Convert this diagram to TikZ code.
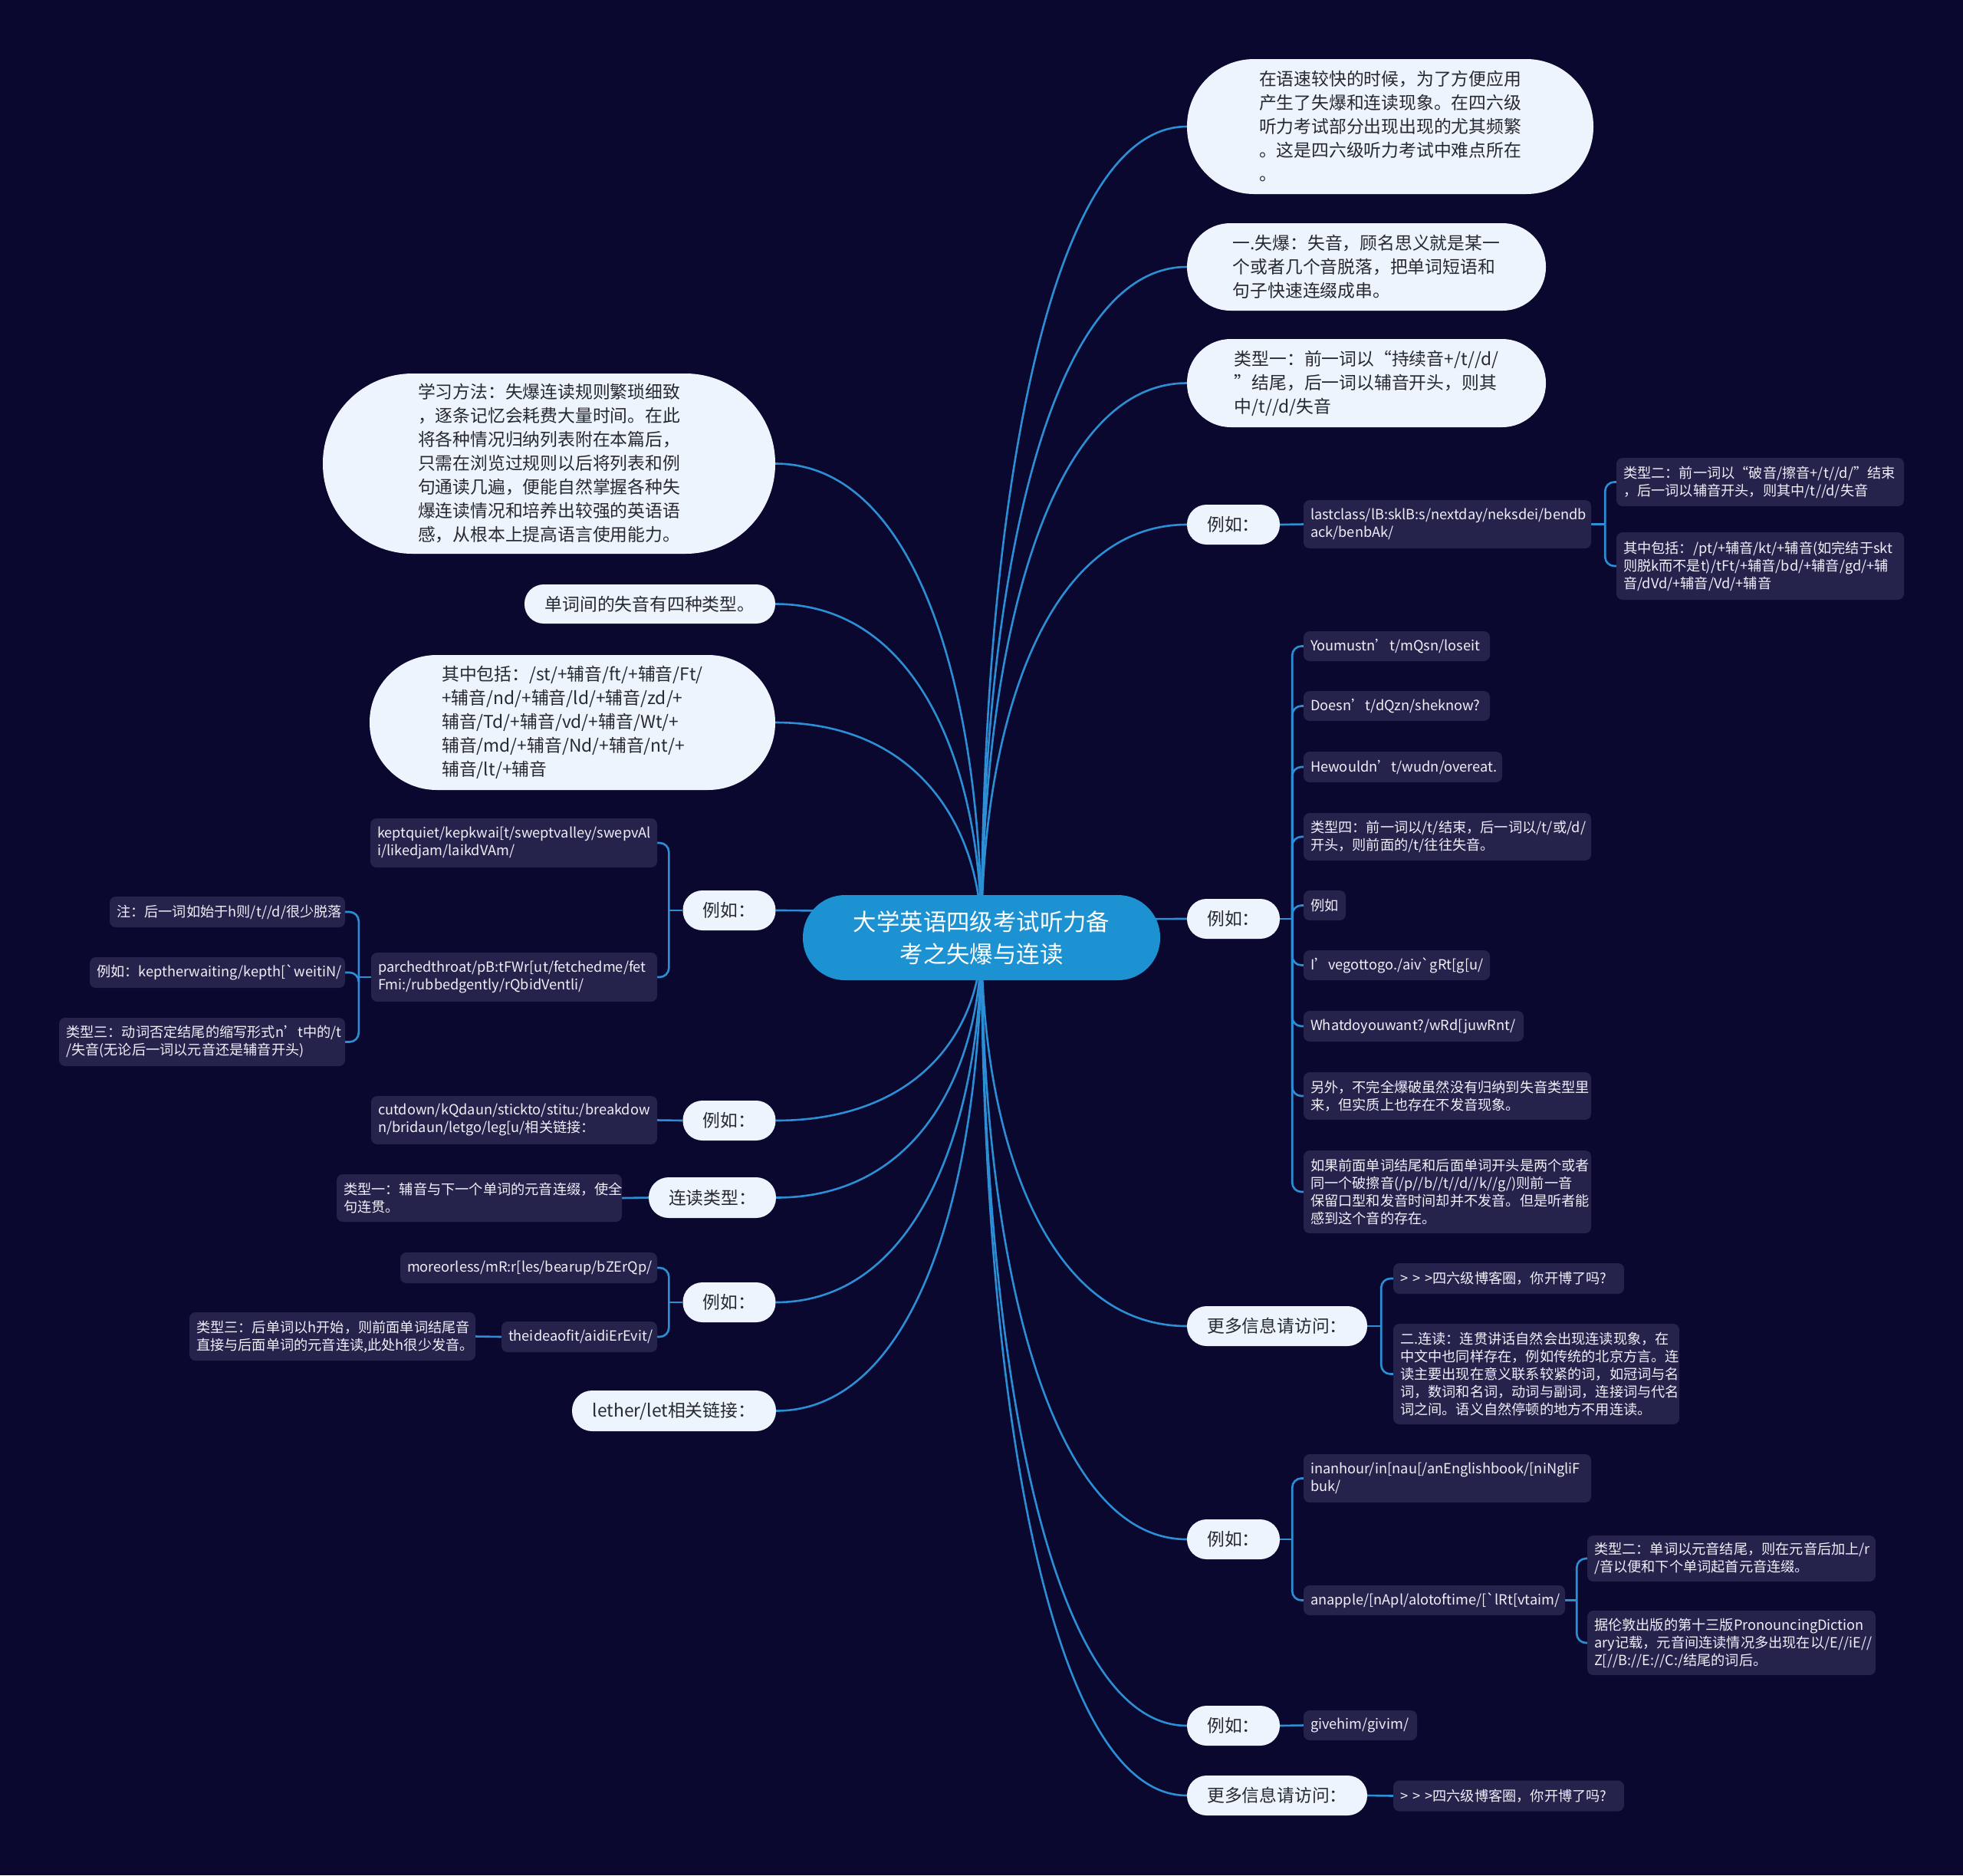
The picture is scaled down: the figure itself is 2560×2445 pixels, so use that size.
\documentclass[tikz,border=0pt]{standalone}
\usepackage{fontspec}
\setmainfont{Noto Sans CJK SC}
\usetikzlibrary{calc}
\definecolor{bgc}{RGB}{10,8,46}
\definecolor{dkfill}{RGB}{37,34,76}
\definecolor{ltfill}{RGB}{238,244,253}
\definecolor{lttext}{RGB}{40,40,48}
\definecolor{linec}{RGB}{44,143,213}
\definecolor{rootc}{RGB}{28,146,210}
\definecolor{dktext}{RGB}{240,240,248}
\pgfdeclarelayer{lines}
\pgfsetlayers{lines,main}
\newcommand\mmbr[3]{\draw[link] (#1) -- ++(#3,0) coordinate (mmj); \draw[link,rounded corners=12pt] (mmj) |- (#2);}
\begin{document}
\begin{tikzpicture}[x=1pt,y=-1pt,
  rootn/.style={fill=rootc, text=white, font=\fontsize{30.4}{42}\selectfont, align=center, minimum width=466pt, minimum height=111pt, rounded corners=55pt, inner sep=0pt},
  lt/.style={fill=ltfill, text=lttext, font=\fontsize{22.8}{31}\selectfont, align=left, inner sep=0pt},
  dk/.style={fill=dkfill, text=dktext, font=\fontsize{18.2}{23}\selectfont, align=left, inner xsep=9pt, inner ysep=0pt, rounded corners=8pt},
  link/.style={draw=linec, line width=2.6pt},
  rootcurve/.style={to path={.. controls ($(\tikztostart)!0.5!(\tikztostart |- \tikztotarget)$) and ($(\tikztostart |- \tikztotarget)!0.3!(\tikztotarget)$) .. (\tikztotarget)}}
]
\useasboundingbox (0,0) rectangle (2560,2445);
% root
\node[rootn] (root) at (1280,1222.5) {大学英语四级考试听力备\\考之失爆与连读};
% right level 1
\node[lt, minimum width=530pt, minimum height=176pt, rounded corners=87.5pt] (R1) at (1813,165) {在语速较快的时候，为了方便应用\\产生了失爆和连读现象。在四六级\\听力考试部分出现出现的尤其频繁\\。这是四六级听力考试中难点所在\\。};
\node[lt, minimum width=468pt, minimum height=114pt, rounded corners=56.5pt] (R2) at (1782,348) {一.失爆：失音，顾名思义就是某一\\个或者几个音脱落，把单词短语和\\句子快速连缀成串。};
\node[lt, minimum width=468pt, minimum height=115pt, rounded corners=57pt] (R3) at (1782,499.5) {类型一：前一词以“持续音+/t//d/\\”结尾，后一词以辅音开头，则其\\中/t//d/失音};
\node[lt, minimum width=121pt, minimum height=52pt, rounded corners=25.5pt] (R4) at (1608.5,684) {例如：};
\node[lt, minimum width=121pt, minimum height=52pt, rounded corners=25.5pt] (R5) at (1608.5,1198) {例如：};
\node[lt, minimum width=235pt, minimum height=52pt, rounded corners=25.5pt] (R6) at (1665.5,1729) {更多信息请访问：};
\node[lt, minimum width=121pt, minimum height=52pt, rounded corners=25.5pt] (R7) at (1608.5,2007) {例如：};
\node[lt, minimum width=121pt, minimum height=52pt, rounded corners=25.5pt] (R8) at (1608.5,2250) {例如：};
\node[lt, minimum width=235pt, minimum height=52pt, rounded corners=25.5pt] (R9) at (1665.5,2341) {更多信息请访问：};
% left level 1
\node[lt, minimum width=590pt, minimum height=235pt, rounded corners=117pt] (L1) at (716,604.5) {学习方法：失爆连读规则繁琐细致\\，逐条记忆会耗费大量时间。在此\\将各种情况归纳列表附在本篇后，\\只需在浏览过规则以后将列表和例\\句通读几遍，便能自然掌握各种失\\爆连读情况和培养出较强的英语语\\感，从根本上提高语言使用能力。};
\node[lt, minimum width=327pt, minimum height=51pt, rounded corners=25pt] (L2) at (847.5,787.5) {单词间的失音有四种类型。};
\node[lt, minimum width=529pt, minimum height=176pt, rounded corners=87.5pt] (L3) at (746.5,942) {其中包括：/st/+辅音/ft/+辅音/Ft/\\+辅音/nd/+辅音/ld/+辅音/zd/+\\辅音/Td/+辅音/vd/+辅音/Wt/+\\辅音/md/+辅音/Nd/+辅音/nt/+\\辅音/lt/+辅音};
\node[lt, minimum width=121pt, minimum height=52pt, rounded corners=25.5pt] (L4) at (951,1187) {例如：};
\node[lt, minimum width=121pt, minimum height=52pt, rounded corners=25.5pt] (L5) at (951,1461) {例如：};
\node[lt, minimum width=166pt, minimum height=53pt, rounded corners=26pt] (L6) at (929,1561.5) {连读类型：};
\node[lt, minimum width=121pt, minimum height=52pt, rounded corners=25.5pt] (L7) at (951,1698) {例如：};
\node[lt, minimum width=266pt, minimum height=53pt, rounded corners=26pt] (L8) at (879,1839.5) {lether/let相关链接：};
% right dark nodes
\node[dk, text width=357pt, minimum height=63pt] (Dlast) at (1887.5,683.5) {lastclass/lB:sklB:s/nextday/neksdei/bendb\\ack/benbAk/};
\node[dk, text width=357pt, minimum height=63pt] (Dty2) at (2295.5,628.5) {类型二：前一词以“破音/擦音+/t//d/”结束\\，后一词以辅音开头，则其中/t//d/失音};
\node[dk, text width=357pt, minimum height=88pt] (Dqz) at (2295.5,738) {其中包括：/pt/+辅音/kt/+辅音(如完结于skt\\则脱k而不是t)/tFt/+辅音/bd/+辅音/gd/+辅\\音/dVd/+辅音/Vd/+辅音};
\node[dk, text width=225pt, minimum height=39pt] (Dyou) at (1821.5,842.5) {Youmustn’t/mQsn/loseit};
\node[dk, text width=225pt, minimum height=39pt] (Ddoes) at (1821.5,920.5) {Doesn’t/dQzn/sheknow?};
\node[dk, text width=241pt, minimum height=40pt] (Dhew) at (1829.5,1000) {Hewouldn’t/wudn/overeat.};
\node[dk, text width=357pt, minimum height=62pt] (Dty4) at (1887.5,1091) {类型四：前一词以/t/结束，后一词以/t/或/d/\\开头，则前面的/t/往往失音。};
\node[dk, text width=37pt, minimum height=39pt] (Dlr) at (1727.5,1180.5) {例如};
\node[dk, text width=225pt, minimum height=39pt] (Dive) at (1821.5,1258.5) {I’vegottogo./aiv\textasciigrave gRt[g[u/};
\node[dk, text width=269pt, minimum height=40pt] (Dwhat) at (1843.5,1338) {Whatdoyouwant?/wRd[juwRnt/};
\node[dk, text width=357pt, minimum height=62pt] (Dlw) at (1887.5,1429) {另外，不完全爆破虽然没有归纳到失音类型里\\来，但实质上也存在不发音现象。};
\node[dk, text width=357pt, minimum height=108pt] (Drg) at (1887.5,1554) {如果前面单词结尾和后面单词开头是两个或者\\同一个破擦音(/p//b//t//d//k//g/)则前一音\\保留口型和发音时间却并不发音。但是听者能\\感到这个音的存在。};
\node[dk, text width=283pt, minimum height=40pt] (Dblog1) at (1967.5,1667) {>\ >\ >四六级博客圈，你开博了吗?};
\node[dk, text width=355pt, minimum height=131pt] (Dlian) at (2003.5,1791.5) {二.连读：连贯讲话自然会出现连读现象，在\\中文中也同样存在，例如传统的北京方言。连\\读主要出现在意义联系较紧的词，如冠词与名\\词，数词和名词，动词与副词，连接词与代名\\词之间。语义自然停顿的地方不用连读。};
\node[dk, text width=357pt, minimum height=63pt] (Dinan) at (1887.5,1927.5) {inanhour/in[nau[/anEnglishbook/[niNgliF\\buk/};
\node[dk, text width=323pt, minimum height=39pt] (Danap) at (1870.5,2086.5) {anapple/[nApl/alotoftime/[\textasciigrave lRt[vtaim/};
\node[dk, text width=358pt, minimum height=60pt] (Dty2b) at (2258,2032) {类型二：单词以元音结尾，则在元音后加上/r\\/音以便和下个单词起首元音连缀。};
\node[dk, text width=358pt, minimum height=84pt] (Dlun) at (2258,2142) {据伦敦出版的第十三版PronouncingDiction\\ary记载，元音间连读情况多出现在以/E//iE//\\Z[//B://E://C:/结尾的词后。};
\node[dk, text width=130pt, minimum height=39pt] (Dgive) at (1774,2249.5) {givehim/givim/};
\node[dk, text width=283pt, minimum height=40pt] (Dblog2) at (1967.5,2341.5) {>\ >\ >四六级博客圈，你开博了吗?};
% left dark nodes
\node[dk, text width=356pt, minimum height=64pt] (DLkept) at (670,1099) {keptquiet/kepkwai[t/sweptvalley/swepvAl\\i/likedjam/laikdVAm/};
\node[dk, text width=355pt, minimum height=64pt] (DLparch) at (670.5,1274) {parchedthroat/pB:tFWr[ut/fetchedme/fet\\Fmi:/rubbedgently/rQbidVentli/};
\node[dk, text width=289pt, minimum height=40pt] (DLzhu) at (296.5,1189) {注：后一词如始于h则/t//d/很少脱落};
\node[dk, text width=315pt, minimum height=40pt] (DLlr) at (283.5,1268) {例如：keptherwaiting/kepth[\textasciigrave weitiN/};
\node[dk, text width=355pt, minimum height=63pt] (DLty3) at (263.5,1358.5) {类型三：动词否定结尾的缩写形式n’t中的/t\\/失音(无论后一词以元音还是辅音开头)};
\node[dk, text width=355pt, minimum height=63pt] (DLcut) at (670.5,1460.5) {cutdown/kQdaun/stickto/stitu:/breakdow\\n/bridaun/letgo/leg[u/相关链接：};
\node[dk, text width=354pt, minimum height=62pt] (DLty1) at (625,1562) {类型一：辅音与下一个单词的元音连缀，使全\\句连贯。};
\node[dk, text width=317pt, minimum height=40pt] (DLmore) at (689.5,1653) {moreorless/mR:r[les/bearup/bZErQp/};
\node[dk, text width=185pt, minimum height=40pt] (DLidea) at (755.5,1743) {theideaofit/aidiErEvit/};
\node[dk, text width=355pt, minimum height=63pt] (DLty3b) at (433.5,1742.5) {类型三：后单词以h开始，则前面单词结尾音\\直接与后面单词的元音连读,此处h很少发音。};
% connectors
\begin{pgfonlayer}{lines}
\fill[bgc] (0,0) rectangle (2560,2445);
\foreach \c in {R1,R2,R3,R4,R5,R6,R7,R8,R9}{\draw[link,rootcurve] (root.center) to (\c.west);}
\foreach \c in {L1,L2,L3,L4,L5,L6,L7,L8}{\draw[link,rootcurve] (root.center) to (\c.east);}
\draw[link] (R4.east) -- (Dlast.west);
\mmbr{Dlast.east}{Dty2.west}{18}
\mmbr{Dlast.east}{Dqz.west}{18}
\foreach \c in {Dyou,Ddoes,Dhew,Dty4,Dlr,Dive,Dwhat,Dlw,Drg}{\mmbr{R5.east}{\c.west}{16}}
\mmbr{R6.east}{Dblog1.west}{18}
\mmbr{R6.east}{Dlian.west}{18}
\mmbr{R7.east}{Dinan.west}{16}
\mmbr{R7.east}{Danap.west}{16}
\mmbr{Danap.east}{Dty2b.west}{15}
\mmbr{Danap.east}{Dlun.west}{15}
\draw[link] (R8.east) -- (Dgive.west);
\draw[link] (R9.east) -- (Dblog2.west);
\mmbr{L4.west}{DLkept.east}{-18}
\mmbr{L4.west}{DLparch.east}{-18}
\mmbr{DLparch.west}{DLzhu.east}{-16}
\mmbr{DLparch.west}{DLlr.east}{-16}
\mmbr{DLparch.west}{DLty3.east}{-16}
\draw[link] (L5.west) -- (DLcut.east);
\draw[link] (L6.west) -- (DLty1.east);
\mmbr{L7.west}{DLmore.east}{-18}
\mmbr{L7.west}{DLidea.east}{-18}
\draw[link] (DLidea.west) -- (DLty3b.east);
\end{pgfonlayer}
\end{tikzpicture}
\end{document}
